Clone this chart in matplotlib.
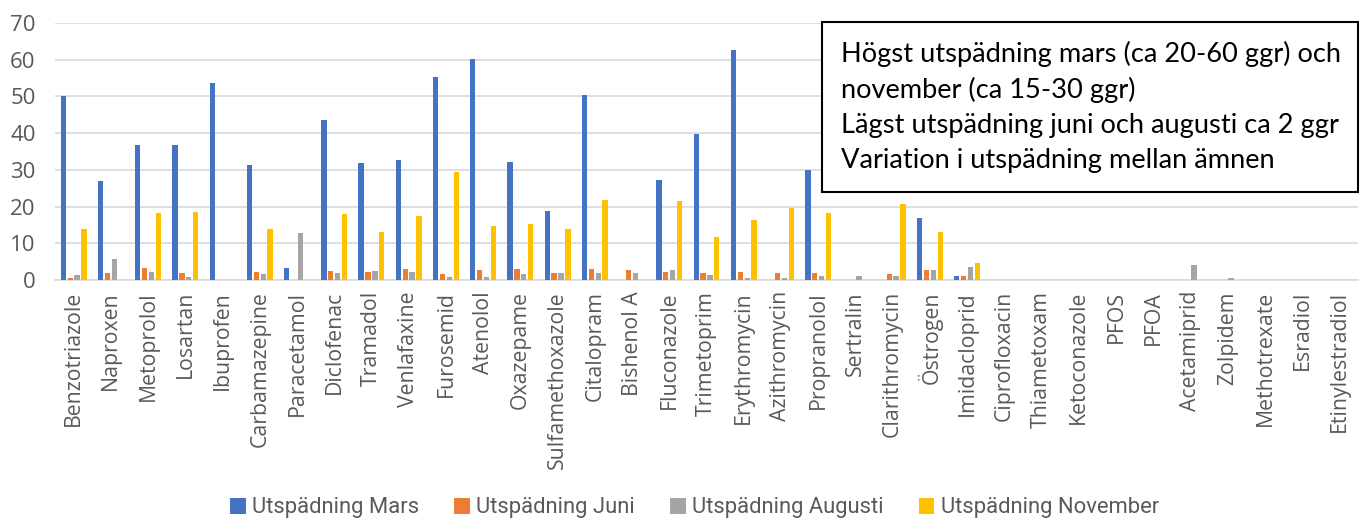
import numpy as np
import matplotlib.pyplot as plt
from matplotlib.patches import Rectangle

# data
substances = ["Benzotriazole", "Naproxen", "Metoprolol", "Losartan", "Ibuprofen",
              "Carbamazepine", "Paracetamol", "Diclofenac", "Tramadol", "Venlafaxine",
              "Furosemid", "Atenolol", "Oxazepame", "Sulfamethoxazole", "Citalopram",
              "Bishenol A", "Fluconazole", "Trimetoprim", "Erythromycin", "Azithromycin",
              "Propranolol", "Sertralin", "Clarithromycin", "Östrogen", "Imidacloprid",
              "Ciprofloxacin", "Thiametoxam", "Ketoconazole", "PFOS", "PFOA",
              "Acetamiprid", "Zolpidem", "Methotrexate", "Esradiol", "Etinylestradiol"]
mars = [50.2, 27.0, 36.9, 36.9, 53.6, 31.4, 3.2, 43.6, 32.0, 32.6,
        55.4, 60.3, 32.2, 18.9, 50.4, 0, 27.2, 39.7, 62.6, 0,
        29.9, 0, 0, 16.8, 1.2, 0, 0, 0, 0, 0,
        0, 0, 0, 0, 0]
juni = [0.5, 1.8, 3.3, 1.8, 0, 2.2, 0, 2.5, 2.2, 3.0,
        1.5, 2.7, 3.0, 1.8, 3.1, 2.8, 2.3, 2.0, 2.3, 2.0,
        2.0, 0, 1.5, 2.6, 1.2, 0, 0, 0, 0, 0,
        0, 0, 0, 0, 0]
augusti = [1.3, 5.6, 2.2, 0.7, 0, 1.6, 12.9, 1.8, 2.4, 2.1,
           0.9, 0.7, 1.6, 1.8, 2.0, 2.0, 2.6, 1.3, 0.6, 0.5,
           1.1, 1.1, 1.1, 2.6, 3.6, 0, 0, 0, 0, 0,
           4.2, 0.5, 0, 0, 0]
november = [13.9, 0, 18.3, 18.4, 0, 14.0, 0, 18.0, 13.1, 17.4,
            29.5, 14.6, 15.3, 13.9, 21.9, 0, 21.5, 11.8, 16.4, 19.5,
            18.2, 0, 20.6, 13.0, 4.6, 0, 0, 0, 0, 0,
            0, 0, 0, 0, 0]
series = [("Utspädning Mars", mars, "#4472C4"),
          ("Utspädning Juni", juni, "#ED7D31"),
          ("Utspädning Augusti", augusti, "#A5A5A5"),
          ("Utspädning November", november, "#FFC000")]
note_lines = ["Högst utspädning mars (ca 20-60 ggr) och",
              "november (ca 15-30 ggr)",
              "Lägst utspädning juni och augusti ca 2 ggr",
              "Variation i utspädning mellan ämnen"]

plt.rcParams['font.family'] = ['Open Sans', 'DejaVu Sans']

fig = plt.figure(figsize=(13.62, 5.21), dpi=100)
ax = fig.add_axes([55/1362, 241/521, 1303/1362, 257/521])

x = np.arange(len(substances))
step = 0.185
w = 0.143
for i, (name, vals, col) in enumerate(series):
    ax.bar(x + (i - 1.5)*step, vals, width=w, color=col, label=name, zorder=3)

ax.set_xlim(-0.5, len(substances) - 0.5)
ax.set_ylim(0, 70)
ax.set_yticks(np.arange(0, 71, 10))
ax.set_xticks(x)
ax.set_xticklabels(substances, rotation=90, fontsize=15.3, color="#595959")
ax.tick_params(axis='y', labelsize=16, colors="#595959", length=0, pad=14)
ax.tick_params(axis='x', length=0, pad=8)
ax.grid(axis='y', color="#D9D9D9", lw=1.2, zorder=0)
for s in ["top", "right", "left"]:
    ax.spines[s].set_visible(False)
ax.spines["bottom"].set_color("#D9D9D9")
ax.spines["bottom"].set_linewidth(1.2)

fig.legend(loc="center", bbox_to_anchor=(0.51, 13/521), ncol=4, frameon=False,
           handlelength=0.7, handleheight=0.7, handletextpad=0.3,
           columnspacing=1.6, labelcolor="#595959",
           prop={'family': ['Liberation Sans Narrow', 'Roboto', 'DejaVu Sans'], 'size': 15.8})

# annotation box
fig.patches.append(Rectangle((822/1362, 1 - 192/521), 536/1362, 170/521,
                             transform=fig.transFigure, facecolor="white",
                             edgecolor="black", lw=1.5, zorder=5))
for k, line in enumerate(note_lines):
    fig.text(841/1362, 1 - (54 + 35.5*k)/521, line, fontsize=19.6, va="center",
             family=['Lato', 'DejaVu Sans'], zorder=6)

fig.savefig("out.png", dpi=100)
